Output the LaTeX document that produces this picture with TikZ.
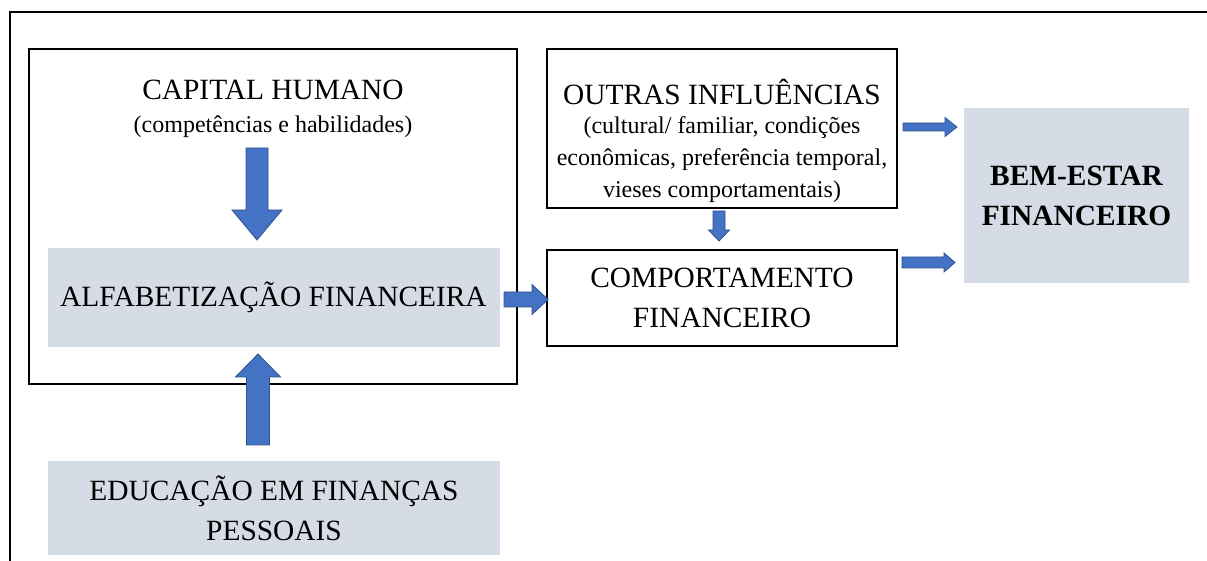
\documentclass[tikz,border=0pt]{standalone}
\usepackage{fontspec}
\setmainfont{Liberation Serif}
\usetikzlibrary{calc}

\definecolor{boxgray}{HTML}{D6DCE5}
\definecolor{arrowblue}{HTML}{4472C4}
\definecolor{arrowedge}{HTML}{2F528F}

\newcommand\titlesize{\fontsize{14.7}{20}\selectfont}
\newcommand\subsize{\fontsize{12}{16}\selectfont}

% #1 from, #2 to, #3 shaft half width, #4 head half width, #5 head length
\newcommand\fatarrow[5]{%
  \coordinate (fa-h) at ($(#2)!#5!(#1)$);
  \draw[fatarrow]
    ($(#1)!#3!90:(#2)$) -- ($(fa-h)!#3!90:(#2)$) -- ($(fa-h)!#4!90:(#2)$)
    -- (#2) -- ($(fa-h)!#4!-90:(#2)$) -- ($(fa-h)!#3!-90:(#2)$)
    -- ($(#1)!#3!-90:(#2)$) -- cycle;
}

\tikzset{
  framebox/.style={draw, line width=1pt, inner sep=0pt, outer sep=0pt},
  graybox/.style={fill=boxgray, inner sep=0pt, outer sep=0pt, align=center},
  label/.style={inner sep=0pt, align=center},
  fatarrow/.style={fill=arrowblue, draw=arrowedge, line width=0.4pt},
}

\begin{document}
\begin{tikzpicture}[x=0.5pt, y=-0.5pt]
  \useasboundingbox (0,0) rectangle (1207,561);
  % outer frame
  \draw[line width=1pt] (10,561) -- (10,12) -- (1207,12);

  % left block
  \node[framebox, minimum width=244pt, minimum height=167.5pt] (capbox) at (273,216.5) {};
  \node[label, font=\titlesize] (captitle) at (273,90) {CAPITAL HUMANO};
  \node[label, font=\subsize] (capsub) at (273,127) {(competências e habilidades)};
  \node[graybox, minimum width=226pt, minimum height=49.5pt, font=\titlesize] (alfab) at (273.5,297.5)
    {ALFABETIZAÇÃO FINANCEIRA};
  \node[graybox, minimum width=226pt, minimum height=47pt, font=\titlesize] (educ) at (274,508)
    {EDUCAÇÃO EM FINANÇAS\\PESSOAIS};

  % right block
  \node[framebox, minimum width=175pt, minimum height=79.5pt] (outras) at (722,128.5) {};
  \node[label, font=\titlesize] (outtitle) at (722,92) {OUTRAS INFLUÊNCIAS};
  \node[label, font=\subsize] (outsub) at (722,160)
    {(cultural/ familiar, condições\\econômicas, preferência temporal,\\vieses comportamentais)};
  \node[framebox, minimum width=175pt, minimum height=48pt, align=center, font=\titlesize] (comport) at (722,298)
    {COMPORTAMENTO\\FINANCEIRO};
  \node[graybox, minimum width=112.5pt, minimum height=87.5pt, font=\titlesize\bfseries] (bem) at (1076.5,195.5)
    {BEM-ESTAR\\FINANCEIRO};

  % arrows
  \coordinate (a1s) at ($(capbox.north)+(-16,99)$);
  \coordinate (a1e) at ($(alfab.north)+(-16.5,-8)$);
  \fatarrow{a1s}{a1e}{5.5pt}{12.5pt}{15pt}
  \coordinate (a2s) at ($(educ.north)+(-16,-16)$);
  \coordinate (a2e) at ($(alfab.south)+(-15.5,7)$);
  \fatarrow{a2s}{a2e}{5.75pt}{11.25pt}{11.5pt}
  \coordinate (a3s) at ($(outras.south)+(-3,3)$);
  \coordinate (a3e) at ($(comport.north)+(-3,-9)$);
  \fatarrow{a3s}{a3e}{3pt}{5.25pt}{5.5pt}
  \coordinate (a4s) at ($(alfab.east)+(4.5,2)$);
  \coordinate (a4e) at ($(comport.west)+(1,1.5)$);
  \fatarrow{a4s}{a4e}{3.75pt}{7.5pt}{8pt}
  \coordinate (a5s) at ($(comport.north east)+(5,12.5)$);
  \coordinate (a5e) at ($(bem.west)+(-9,67)$);
  \fatarrow{a5s}{a5e}{2.75pt}{4.75pt}{5.5pt}
  \coordinate (a6s) at ($(outras.east)+(6,-1.5)$);
  \coordinate (a6e) at ($(bem.west)+(-7,-68.5)$);
  \fatarrow{a6s}{a6e}{2pt}{4.75pt}{6pt}
\end{tikzpicture}
\end{document}
